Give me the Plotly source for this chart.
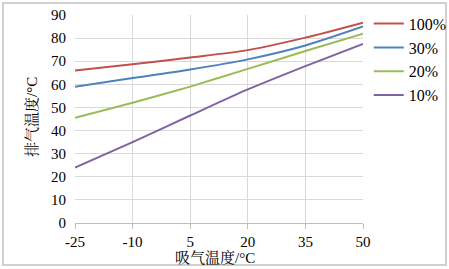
import plotly.graph_objects as go

x_vals = [-25, -10, 5, 20, 35, 50]
s100 = [66, 68.7, 71.6, 74.8, 80.2, 86.7]
s30 = [59, 62.7, 66.4, 70.8, 76.8, 85]
s20 = [45.5, 52, 59, 66.7, 74.4, 81.9]
s10 = [24, 35, 46.5, 57.8, 67.9, 77.5]
names = ["100%", "30%", "20%", "10%"]
colors = ["#C0504D", "#4F81BD", "#9BBB59", "#8064A2"]
x_ticks = [-25, -10, 5, 20, 35, 50]
x_ticktext = ["-25", "-10", "5", "20", "35", "50"]
y_ticks = [0, 10, 20, 30, 40, 50, 60, 70, 80, 90]
x_title = "吸气温度/°C"
y_title = "排气温度/°C"

font_fam = "Liberation Serif, Times New Roman, Noto Serif CJK SC, Noto Sans CJK SC, serif"

fig = go.Figure()
for i, (name, ys, c) in enumerate(zip(names, [s100, s30, s20, s10], colors)):
    fig.add_trace(go.Scatter(x=x_vals, y=ys, name=name, mode="lines", legendgroup=f"g{i}",
                             line=dict(color=c, width=2, shape="spline", smoothing=0.7)))

fig.update_layout(
    width=449, height=269,
    margin=dict(l=75, r=86, t=15, b=46, autoexpand=False),
    paper_bgcolor="white", plot_bgcolor="white",
    font=dict(family=font_fam, size=15, color="black"),
    showlegend=True,
    legend=dict(x=1.02, y=1.04, xanchor="left", yanchor="top",
                font=dict(size=16), tracegroupgap=0,
                bgcolor="rgba(0,0,0,0)"),
    xaxis=dict(range=[-25, 50], tickvals=x_ticks, ticktext=x_ticktext, showgrid=True,
               gridcolor="#D9D9D9", gridwidth=1, showline=True, linecolor="#BFBFBF",
               linewidth=1, ticks="outside", ticklen=5, tickcolor="#BFBFBF",
               zeroline=False, tickfont=dict(size=15), automargin=False),
    yaxis=dict(range=[0, 90], tickvals=y_ticks, showgrid=True, gridcolor="#D9D9D9",
               gridwidth=1, showline=False, zeroline=False, ticks="",
               ticklabelstandoff=8, tickfont=dict(size=15), automargin=False),
    annotations=[
        dict(text=x_title, xref="paper", yref="paper", x=(215 - 75) / 288, y=(223 - 257) / 208,
             xanchor="center", yanchor="middle", showarrow=False, font=dict(size=15)),
        dict(text=y_title, xref="paper", yref="paper", x=(31 - 75) / 288, y=(223 - 117) / 208,
             xanchor="center", yanchor="middle", showarrow=False, textangle=-90,
             font=dict(size=15)),
    ],
    shapes=[dict(type="rect", xref="paper", yref="paper",
                 x0=(3 - 75) / 288, x1=(446 - 75) / 288,
                 y0=(223 - 265) / 208, y1=(223 - 3) / 208,
                 line=dict(color="#D0D0D0", width=2), fillcolor="rgba(0,0,0,0)",
                 layer="above")],
)

fig.write_html("out.html", config={"displayModeBar": False},
               post_script="document.body.style.margin='0';document.body.style.overflow='hidden';")
